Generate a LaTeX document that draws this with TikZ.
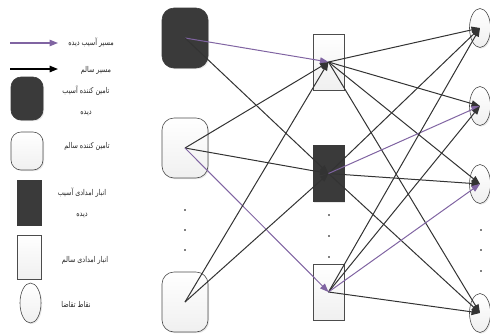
\documentclass[tikz,border=0pt]{standalone}
\usepackage{fontspec}
\usetikzlibrary{arrows.meta,shadows,shapes.geometric}
\TeXXeTstate=1
\newfontfamily\farsi[Script=Arabic,FakeStretch=0.8]{DejaVu Sans}
\definecolor{darkbox}{HTML}{3A3A3A}
\definecolor{hurt}{HTML}{8064A2}
\definecolor{sound}{HTML}{333333}

\tikzset{
	plain/.style={draw=gray!60!black, line width=0.6pt, top color=white, bottom color=gray!12, drop shadow={opacity=0.18, shadow xshift=1.2pt, shadow yshift=-1.2pt}},
	dark/.style={draw=darkbox, line width=0.6pt, fill=darkbox, drop shadow={opacity=0.18, shadow xshift=1.2pt, shadow yshift=-1.2pt}},
	supplier/.style={rectangle, rounded corners=12pt, minimum width=46pt, minimum height=60pt, inner sep=0pt},
	depot/.style={rectangle, minimum width=31pt, minimum height=56pt, inner sep=0pt},
	demand/.style={ellipse, minimum width=21pt, minimum height=39pt, inner sep=0pt},
	healthy/.style={draw=sound, line width=1pt, -{Triangle[length=8.5pt,width=6.5pt]}},
	damaged/.style={draw=hurt, line width=1pt, -{Triangle[length=8.5pt,width=6.5pt]}},
	label/.style={font=\farsi\fontsize{8}{21}\selectfont, align=center, inner sep=0pt, text=black!85}
}

\begin{document}
\begin{tikzpicture}[x=1pt,y=-1pt]
	\useasboundingbox (0,0) rectangle (490,333);

	% suppliers
	\node[supplier,dark]  (s1) at (185,38) {};
	\node[supplier,plain] (s2) at (185,148) {};
	\node[supplier,plain] (s3) at (185,302) {};

	% relief depots
	\node[depot,plain] (w1) at (328.5,62) {};
	\node[depot,dark]  (w2) at (328.5,173.5) {};
	\node[depot,plain] (w3) at (328.5,292) {};

	% demand points
	\node[demand,plain] (d1) at (480,28) {};
	\node[demand,plain] (d2) at (480,106) {};
	\node[demand,plain] (d3) at (480,184) {};
	\node[demand,plain] (d4) at (480,313) {};

	\foreach \y in {210,230,250} \fill (185,\y) circle (0.9);
	\foreach \y in {215,236,257} \fill (329,\y) circle (0.9);
	\foreach \y in {230,250,271} \fill (481,\y) circle (0.9);

	% supplier -> depot
	\draw[damaged] (s1.center) -- (w1.center);
	\draw[healthy] (s1.center) -- (w2.center);
	\draw[healthy] (s2.center) -- (w1.center);
	\draw[healthy] (s2.center) -- (w2.center);
	\draw[damaged] (s2.center) -- (w3.center);
	\draw[healthy] (s3.center) -- (w1.center);
	\draw[healthy] (s3.center) -- (w2.center);

	% depot -> demand
	\foreach \d in {d1,d2,d3,d4}
		\draw[healthy] (w1.center) -- (\d.center);
	\foreach \d in {d1,d3,d4}
		\draw[healthy] (w2.center) -- (\d.center);
	\draw[damaged] (w2.center) -- (d2.center);
	\foreach \d in {d1,d2,d4}
		\draw[healthy] (w3.center) -- (\d.center);
	\draw[damaged] (w3.center) -- (d3.center);

	% legend
	\coordinate (lp1) at (10,43);
	\coordinate (lp2) at (58,43);
	\coordinate (lb1) at (10,69);
	\coordinate (lb2) at (58,69);
	\draw[damaged,line width=1.2pt] (lp1) -- (lp2);
	\draw[healthy,draw=black,line width=1.5pt] (lb1) -- (lb2);
	\node[label] (tp) at (91,43) {\beginR مسیر آسیب دیده\endR};
	\node[label] (tb) at (96,70) {\beginR مسیر سالم\endR};

	\node[dark,rectangle,rounded corners=10pt,minimum width=32pt,minimum height=43pt] (ls1) at (27,98.5) {};
	\node[label] (ts1) at (86,101) {\beginR تامین کننده آسیب\endR\\\beginR دیده\endR};
	\node[plain,rectangle,rounded corners=10pt,minimum width=32pt,minimum height=38pt] (ls2) at (27,151) {};
	\node[label] (ts2) at (87,146) {\beginR تامین کننده سالم\endR};

	\node[dark,rectangle,minimum width=24pt,minimum height=45pt] (lw1) at (29,202.5) {};
	\node[label] (tw1) at (82,203) {\beginR انبار امدادی آسیب\endR\\\beginR دیده\endR};
	\node[plain,rectangle,minimum width=24pt,minimum height=44pt] (lw2) at (29,257) {};
	\node[label] (tw2) at (85,260) {\beginR انبار امدادی سالم\endR};

	\node[plain,demand,minimum height=40pt] (ld) at (30.5,303) {};
	\node[label] (td) at (76,304) {\beginR نقاط تقاضا\endR};
\end{tikzpicture}
\end{document}
